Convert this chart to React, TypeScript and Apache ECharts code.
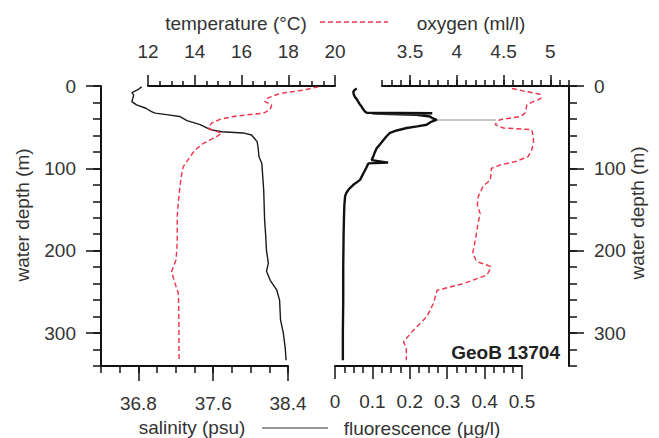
import React, { useEffect, useRef } from "react";
import * as echarts from "echarts";

// ---------- data ----------
const salDepth = [1, 4, 8, 11, 15, 19, 23, 27, 31, 33, 35, 37, 42, 47, 53, 55.5, 57, 59.5, 67.6, 75, 86, 94, 110, 126, 163, 179, 200, 215, 225, 236, 248, 260, 284, 300, 318, 333];
const salinity = [36.835, 36.8, 36.73, 36.75, 36.74, 36.73, 36.78, 36.88, 36.94, 36.98, 37.12, 37.24, 37.32, 37.46, 37.57, 37.69, 37.92, 38.01, 38.07, 38.08, 38.09, 38.12, 38.13, 38.14, 38.15, 38.16, 38.17, 38.19, 38.17, 38.21, 38.28, 38.31, 38.32, 38.35, 38.37, 38.38];

const tempDepth = [1, 5, 9, 15, 19, 23, 29, 33, 35, 37, 40.5, 45, 51, 54, 57, 61.5, 69.6, 78, 86, 98, 110, 122, 140, 159, 190, 211, 225.5, 240, 252, 280, 333];
const temperature = [19.29, 18.65, 17.65, 17.08, 17.0, 17.29, 17.22, 16.93, 16.22, 15.65, 15.08, 14.72, 14.58, 14.79, 15.15, 14.94, 14.37, 14.0, 13.8, 13.51, 13.42, 13.37, 13.3, 13.25, 13.25, 13.2, 13.01, 13.16, 13.3, 13.32, 13.33];

const fluoDepth = [3, 5, 7, 10, 13, 16, 19, 22, 25, 28, 31, 32.5, 33, 33.5, 35, 37, 39, 41, 42, 44, 47, 49, 51, 54, 57, 61, 66, 71, 76, 81, 86, 90, 93, 94, 100, 106, 114, 117, 120, 123, 126, 130, 134, 145, 159, 180, 220, 260, 300, 333];
const fluorescence = [0.058, 0.052, 0.049, 0.05, 0.053, 0.058, 0.062, 0.066, 0.071, 0.075, 0.08, 0.085, 0.26, 0.1, 0.218, 0.254, 0.26, 0.272, 0.265, 0.255, 0.245, 0.22, 0.192, 0.165, 0.147, 0.138, 0.129, 0.12, 0.111, 0.106, 0.102, 0.098, 0.142, 0.089, 0.083, 0.076, 0.067, 0.058, 0.049, 0.042, 0.036, 0.03, 0.027, 0.025, 0.024, 0.023, 0.022, 0.022, 0.021, 0.021];
// isolated spike drawn as a thin grey trace
const fluoSpikeDepth = [41.3, 41.3];
const fluoSpike = [0.272, 0.43];

const oxyDepth = [3, 6, 10, 15, 21, 23, 28, 33, 37, 41, 44, 47, 51, 53, 61.5, 70, 78, 86, 92, 96, 100, 114, 122, 134, 145, 155, 165, 179, 192, 203, 213, 219, 224, 229.5, 240, 248, 264, 280, 296, 310.5, 318.5, 333];
const oxygen = [4.59, 4.71, 4.89, 4.9, 4.78, 4.75, 4.74, 4.73, 4.68, 4.46, 4.43, 4.41, 4.5, 4.8, 4.82, 4.82, 4.8, 4.76, 4.62, 4.46, 4.37, 4.36, 4.28, 4.23, 4.22, 4.25, 4.23, 4.21, 4.19, 4.17, 4.21, 4.36, 4.35, 4.32, 4.07, 3.79, 3.75, 3.68, 3.54, 3.43, 3.46, 3.46];

// axis ranges
const salRange = [36.4, 38.4];
const salMajor = [36.8, 38.4];
const tempRange = [12, 20];
const fluoRange = [0, 0.5];
const oxyRange = [3.2, 5.2];
const oxyMajor = [3.5, 5.0];
const depthRange = [0, 340];
const depthMajorMax = 300;

// ---------- layout ----------
const FONT = "'Liberation Sans', Arial, sans-serif";
const FS = 19;
const TXT = "#333";
const BLK = "#111";
const RED = "#ee3348";
const TOP = 86;
const H = 280;
const W = 187;
const SAL_L = 101;
const TEMP_L = 148;
const FLUO_L = 335;
const OXY_L = 382;

const zip = (xs: number[], ys: number[]) => xs.map((x, i) => [x, ys[i]]);

export default function App() {
  const ref = useRef<HTMLDivElement>(null);
  useEffect(() => {
    if (!ref.current) return;
    const chart = echarts.init(ref.current, undefined, { renderer: "svg" });

    const salPx = W / (salRange[1] - salRange[0]);
    const oxyPx = W / (oxyRange[1] - oxyRange[0]);
    const majH = (H * depthMajorMax) / (depthRange[1] - depthRange[0]);

    const grids = [
      { left: SAL_L, top: TOP, width: W, height: H },
      { left: SAL_L + (salMajor[0] - salRange[0]) * salPx, top: TOP, width: (salMajor[1] - salMajor[0]) * salPx, height: H },
      { left: SAL_L, top: TOP, width: W, height: majH },
      { left: TEMP_L, top: TOP, width: W, height: H },
      { left: FLUO_L, top: TOP, width: W, height: H },
      { left: OXY_L, top: TOP, width: W, height: H },
      { left: OXY_L + (oxyMajor[0] - oxyRange[0]) * oxyPx, top: TOP, width: (oxyMajor[1] - oxyMajor[0]) * oxyPx, height: H },
      { left: OXY_L, top: TOP, width: W, height: majH },
    ];

    const line = (show = true) => ({ show, onZero: false, lineStyle: { color: BLK, width: 2 } });
    const tick = (length: number, show = true) => ({ show, length, lineStyle: { color: BLK, width: 1.5 } });
    const label = (margin: number) => ({ show: true, margin, color: TXT, fontSize: FS, fontFamily: FONT });
    const noLabel = { show: false };
    const hidden = (gridIndex: number, min: number, max: number, inverse = false) => ({
      type: "value", gridIndex, show: false, min, max, inverse,
      axisLine: { show: false, onZero: false }, splitLine: { show: false },
    });

    const xAxis: any[] = [
      { type: "value", gridIndex: 0, position: "bottom", min: salRange[0], max: salRange[1], interval: 0.2,
        axisLine: line(), axisTick: tick(7), axisLabel: noLabel, splitLine: { show: false } },
      { type: "value", gridIndex: 1, position: "bottom", min: salMajor[0], max: salMajor[1], interval: 0.8,
        axisLine: line(false), axisTick: tick(15), axisLabel: label(28), splitLine: { show: false } },
      hidden(2, 0, 1),
      { type: "value", gridIndex: 3, position: "top", min: tempRange[0], max: tempRange[1], interval: 2,
        axisLine: line(), axisTick: tick(11), minorTick: { show: true, splitNumber: 4, length: 5, lineStyle: { color: BLK, width: 1.5 } },
        axisLabel: label(25), splitLine: { show: false }, minorSplitLine: { show: false } },
      { type: "value", gridIndex: 4, position: "bottom", min: fluoRange[0], max: fluoRange[1], interval: 0.1,
        axisLine: line(), axisTick: tick(13), minorTick: { show: true, splitNumber: 4, length: 7, lineStyle: { color: BLK, width: 1.5 } },
        axisLabel: label(26), splitLine: { show: false }, minorSplitLine: { show: false } },
      { type: "value", gridIndex: 5, position: "top", min: oxyRange[0], max: oxyRange[1], interval: 0.1,
        axisLine: line(), axisTick: tick(6), axisLabel: noLabel, splitLine: { show: false } },
      { type: "value", gridIndex: 6, position: "top", min: oxyMajor[0], max: oxyMajor[1], interval: 0.5,
        axisLine: line(false), axisTick: tick(11), axisLabel: label(25), splitLine: { show: false } },
      hidden(7, 0, 1),
    ];

    const yAxis: any[] = [
      { type: "value", gridIndex: 0, position: "left", min: depthRange[0], max: depthRange[1], interval: 20, inverse: true,
        axisLine: line(), axisTick: tick(8), axisLabel: noLabel, splitLine: { show: false } },
      hidden(1, depthRange[0], depthRange[1], true),
      { type: "value", gridIndex: 2, position: "left", min: 0, max: depthMajorMax, interval: 100, inverse: true,
        axisLine: line(false), axisTick: tick(15), axisLabel: label(25), splitLine: { show: false } },
      hidden(3, depthRange[0], depthRange[1], true),
      hidden(4, depthRange[0], depthRange[1], true),
      { type: "value", gridIndex: 5, position: "right", min: depthRange[0], max: depthRange[1], interval: 20, inverse: true,
        axisLine: line(), axisTick: tick(8), axisLabel: noLabel, splitLine: { show: false } },
      hidden(6, depthRange[0], depthRange[1], true),
      { type: "value", gridIndex: 7, position: "right", min: 0, max: depthMajorMax, interval: 100, inverse: true,
        axisLine: line(false), axisTick: tick(15), axisLabel: label(25), splitLine: { show: false } },
    ];

    const series: any[] = [
      { type: "line", name: "salinity", xAxisIndex: 0, yAxisIndex: 0, data: zip(salinity, salDepth),
        showSymbol: false, lineStyle: { color: "#1a1a1a", width: 1.4 } },
      { type: "line", name: "temperature", xAxisIndex: 3, yAxisIndex: 3, data: zip(temperature, tempDepth),
        showSymbol: false, lineStyle: { color: RED, width: 1.4, type: [5, 3] } },
      { type: "line", name: "fluorescence spike", xAxisIndex: 4, yAxisIndex: 4, data: zip(fluoSpike, fluoSpikeDepth),
        showSymbol: false, lineStyle: { color: "#888", width: 1 } },
      { type: "line", name: "fluorescence", xAxisIndex: 4, yAxisIndex: 4, data: zip(fluorescence, fluoDepth),
        showSymbol: false, lineStyle: { color: "#111", width: 2.4 } },
      { type: "line", name: "oxygen", xAxisIndex: 5, yAxisIndex: 5, data: zip(oxygen, oxyDepth),
        showSymbol: false, lineStyle: { color: RED, width: 1.4, type: [5, 3] } },
    ];

    const txt = (text: string, x: number, y: number, extra: any = {}, rotation = 0) => ({
      type: "text", x, y, rotation,
      style: { text, fill: TXT, font: `${extra.weight || "normal"} ${FS}px ${FONT}`,
        textAlign: extra.align || "center", align: extra.align || "center",
        textVerticalAlign: "middle", verticalAlign: "middle" },
    });

    const graphic: any[] = [
      txt("temperature (°C)", 236, 23),
      { type: "line", shape: { x1: 320, y1: 22, x2: 388, y2: 22 }, style: { stroke: RED, lineWidth: 1.4, lineDash: [5, 3] } },
      txt("oxygen (ml/l)", 471, 23),
      txt("salinity (psu)", 192, 427),
      { type: "line", shape: { x1: 262, y1: 428, x2: 328, y2: 428 }, style: { stroke: "#999", lineWidth: 2 } },
      txt("fluorescence (µg/l)", 422, 428),
      { type: "text", x: 560, y: 352, style: { text: "GeoB 13704", fill: "#222", font: `bold ${FS}px ${FONT}`,
        textAlign: "right", align: "right", textVerticalAlign: "middle", verticalAlign: "middle" } },
      txt("water depth (m)", 22, 215, {}, Math.PI / 2),
      txt("water depth (m)", 637, 213, {}, Math.PI / 2),
    ];

    chart.setOption({
      animation: false,
      backgroundColor: "#fff",
      textStyle: { fontFamily: FONT },
      grid: grids,
      xAxis,
      yAxis,
      series,
      graphic,
    });
    return () => chart.dispose();
  }, []);
  return <div ref={ref} style={{ position: "fixed", left: 0, top: 0, width: 659, height: 438 }} />;
}
